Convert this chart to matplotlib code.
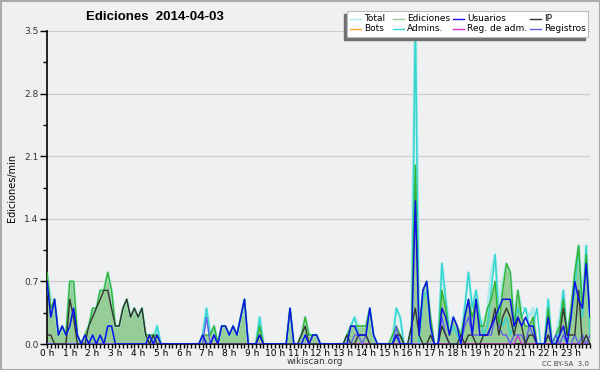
import matplotlib
matplotlib.use("Agg")
import matplotlib.pyplot as plt
from matplotlib.patches import Rectangle
import numpy as np

# 10-minute slots, values in edits per minute
slots = np.arange(144)
hour_labels = [f"{h} h" for h in range(24)]

ediciones = [
    0.8, 0.4, 0.5, 0.1, 0.2, 0.1, 0.7, 0.7, 0.1, 0.0,
    0.1, 0.2, 0.4, 0.4, 0.6, 0.6, 0.8, 0.6, 0.2, 0.2,
    0.4, 0.5, 0.3, 0.4, 0.3, 0.4, 0.1, 0.1, 0.1, 0.1,
    0.0, 0.0, 0.0, 0.0, 0.0, 0.0, 0.0, 0.0, 0.0, 0.0,
    0.0, 0.1, 0.1, 0.1, 0.2, 0.0, 0.2, 0.2, 0.1, 0.2,
    0.1, 0.3, 0.5, 0.0, 0.0, 0.0, 0.2, 0.0, 0.0, 0.0,
    0.0, 0.0, 0.0, 0.0, 0.4, 0.0, 0.0, 0.1, 0.3, 0.1,
    0.1, 0.1, 0.0, 0.0, 0.0, 0.0, 0.0, 0.0, 0.0, 0.1,
    0.2, 0.2, 0.2, 0.2, 0.2, 0.4, 0.1, 0.0, 0.0, 0.0,
    0.0, 0.1, 0.2, 0.1, 0.0, 0.0, 0.2, 2.0, 0.1, 0.6,
    0.7, 0.3, 0.0, 0.0, 0.6, 0.4, 0.1, 0.3, 0.2, 0.1,
    0.3, 0.5, 0.3, 0.5, 0.2, 0.2, 0.4, 0.5, 0.7, 0.2,
    0.6, 0.9, 0.8, 0.2, 0.6, 0.3, 0.2, 0.2, 0.3, 0.0,
    0.0, 0.0, 0.4, 0.0, 0.1, 0.2, 0.5, 0.1, 0.4, 0.8,
    1.1, 0.4, 1.0, 0.3,
]
usuarios = [
    0.7, 0.3, 0.5, 0.1, 0.2, 0.1, 0.2, 0.4, 0.1, 0.0,
    0.1, 0.0, 0.1, 0.0, 0.1, 0.0, 0.2, 0.2, 0.0, 0.0,
    0.0, 0.0, 0.0, 0.0, 0.0, 0.0, 0.0, 0.1, 0.0, 0.1,
    0.0, 0.0, 0.0, 0.0, 0.0, 0.0, 0.0, 0.0, 0.0, 0.0,
    0.0, 0.1, 0.0, 0.0, 0.1, 0.0, 0.2, 0.2, 0.1, 0.2,
    0.1, 0.3, 0.5, 0.0, 0.0, 0.0, 0.1, 0.0, 0.0, 0.0,
    0.0, 0.0, 0.0, 0.0, 0.4, 0.0, 0.0, 0.0, 0.1, 0.0,
    0.1, 0.1, 0.0, 0.0, 0.0, 0.0, 0.0, 0.0, 0.0, 0.0,
    0.2, 0.2, 0.1, 0.1, 0.1, 0.4, 0.1, 0.0, 0.0, 0.0,
    0.0, 0.0, 0.1, 0.0, 0.0, 0.0, 0.0, 1.6, 0.1, 0.6,
    0.7, 0.2, 0.0, 0.0, 0.4, 0.3, 0.1, 0.3, 0.2, 0.0,
    0.3, 0.5, 0.1, 0.5, 0.1, 0.1, 0.1, 0.2, 0.3, 0.4,
    0.5, 0.5, 0.5, 0.2, 0.3, 0.2, 0.3, 0.2, 0.2, 0.0,
    0.0, 0.0, 0.3, 0.0, 0.0, 0.1, 0.2, 0.0, 0.3, 0.7,
    0.5, 0.4, 0.9, 0.3,
]
ip = [
    0.1, 0.1, 0.0, 0.0, 0.0, 0.0, 0.5, 0.3, 0.0, 0.0,
    0.0, 0.2, 0.3, 0.4, 0.5, 0.6, 0.6, 0.4, 0.2, 0.2,
    0.4, 0.5, 0.3, 0.4, 0.3, 0.4, 0.1, 0.0, 0.1, 0.0,
    0.0, 0.0, 0.0, 0.0, 0.0, 0.0, 0.0, 0.0, 0.0, 0.0,
    0.0, 0.0, 0.0, 0.0, 0.0, 0.0, 0.0, 0.0, 0.0, 0.0,
    0.0, 0.0, 0.0, 0.0, 0.0, 0.0, 0.1, 0.0, 0.0, 0.0,
    0.0, 0.0, 0.0, 0.0, 0.0, 0.0, 0.0, 0.1, 0.2, 0.0,
    0.0, 0.0, 0.0, 0.0, 0.0, 0.0, 0.0, 0.0, 0.0, 0.1,
    0.0, 0.0, 0.1, 0.1, 0.1, 0.0, 0.0, 0.0, 0.0, 0.0,
    0.0, 0.0, 0.1, 0.1, 0.0, 0.0, 0.2, 0.4, 0.1, 0.0,
    0.0, 0.1, 0.0, 0.0, 0.2, 0.1, 0.0, 0.0, 0.0, 0.1,
    0.0, 0.1, 0.1, 0.0, 0.0, 0.1, 0.1, 0.2, 0.4, 0.1,
    0.3, 0.4, 0.3, 0.1, 0.3, 0.2, 0.0, 0.1, 0.1, 0.0,
    0.0, 0.0, 0.1, 0.0, 0.0, 0.1, 0.4, 0.1, 0.1, 0.1,
    0.6, 0.0, 0.1, 0.0,
]
admins = [
    0.7, 0.3, 0.5, 0.1, 0.2, 0.1, 0.2, 0.4, 0.1, 0.0,
    0.1, 0.0, 0.1, 0.0, 0.1, 0.0, 0.2, 0.2, 0.0, 0.0,
    0.0, 0.0, 0.0, 0.0, 0.0, 0.0, 0.0, 0.1, 0.0, 0.2,
    0.0, 0.0, 0.0, 0.0, 0.0, 0.0, 0.0, 0.0, 0.0, 0.0,
    0.0, 0.1, 0.4, 0.1, 0.2, 0.0, 0.2, 0.2, 0.1, 0.2,
    0.1, 0.3, 0.5, 0.0, 0.0, 0.0, 0.3, 0.0, 0.0, 0.0,
    0.0, 0.0, 0.0, 0.0, 0.4, 0.0, 0.0, 0.0, 0.1, 0.1,
    0.1, 0.1, 0.0, 0.0, 0.0, 0.0, 0.0, 0.0, 0.0, 0.0,
    0.2, 0.3, 0.1, 0.1, 0.1, 0.4, 0.1, 0.0, 0.0, 0.0,
    0.0, 0.0, 0.4, 0.3, 0.0, 0.0, 0.0, 3.6, 0.0, 0.5,
    0.6, 0.2, 0.0, 0.0, 0.9, 0.5, 0.1, 0.2, 0.1, 0.0,
    0.4, 0.8, 0.4, 0.6, 0.3, 0.1, 0.2, 0.6, 1.0, 0.3,
    0.2, 0.3, 0.1, 0.2, 0.4, 0.3, 0.4, 0.2, 0.2, 0.4,
    0.0, 0.0, 0.5, 0.0, 0.0, 0.2, 0.6, 0.1, 0.3, 0.6,
    1.1, 0.3, 1.1, 0.1,
]
total = [
    0.8, 0.5, 0.5, 0.1, 0.2, 0.1, 0.7, 0.7, 0.1, 0.0,
    0.1, 0.2, 0.4, 0.4, 0.6, 0.6, 0.8, 0.6, 0.2, 0.2,
    0.4, 0.5, 0.3, 0.4, 0.3, 0.4, 0.1, 0.1, 0.1, 0.2,
    0.0, 0.0, 0.0, 0.0, 0.0, 0.0, 0.0, 0.0, 0.0, 0.0,
    0.0, 0.1, 0.4, 0.1, 0.2, 0.0, 0.2, 0.2, 0.1, 0.2,
    0.1, 0.3, 0.5, 0.0, 0.0, 0.0, 0.3, 0.0, 0.0, 0.0,
    0.0, 0.0, 0.0, 0.0, 0.4, 0.0, 0.0, 0.1, 0.3, 0.1,
    0.1, 0.1, 0.0, 0.0, 0.0, 0.0, 0.0, 0.0, 0.0, 0.1,
    0.2, 0.3, 0.2, 0.2, 0.2, 0.4, 0.1, 0.0, 0.0, 0.0,
    0.0, 0.1, 0.4, 0.3, 0.0, 0.0, 0.2, 3.9, 0.1, 0.6,
    0.7, 0.3, 0.0, 0.0, 0.9, 0.5, 0.2, 0.3, 0.2, 0.1,
    0.4, 0.8, 0.4, 0.6, 0.3, 0.2, 0.4, 0.8, 1.0, 0.4,
    0.7, 0.9, 0.8, 0.3, 0.6, 0.4, 0.4, 0.3, 0.4, 0.0,
    0.0, 0.0, 0.5, 0.0, 0.1, 0.3, 0.6, 0.1, 0.4, 0.8,
    1.1, 0.5, 1.1, 0.3,
]
registros = [
    0.0, 0.0, 0.0, 0.0, 0.0, 0.0, 0.0, 0.0, 0.0, 0.0,
    0.0, 0.0, 0.0, 0.0, 0.0, 0.0, 0.0, 0.0, 0.0, 0.0,
    0.0, 0.0, 0.0, 0.0, 0.0, 0.0, 0.0, 0.0, 0.0, 0.0,
    0.0, 0.0, 0.0, 0.0, 0.0, 0.0, 0.0, 0.0, 0.0, 0.0,
    0.0, 0.0, 0.3, 0.0, 0.1, 0.0, 0.0, 0.0, 0.0, 0.0,
    0.0, 0.0, 0.0, 0.0, 0.0, 0.0, 0.0, 0.0, 0.0, 0.0,
    0.0, 0.0, 0.0, 0.0, 0.0, 0.0, 0.0, 0.0, 0.0, 0.0,
    0.0, 0.0, 0.0, 0.0, 0.0, 0.0, 0.0, 0.0, 0.0, 0.0,
    0.0, 0.1, 0.1, 0.0, 0.1, 0.0, 0.0, 0.0, 0.0, 0.0,
    0.0, 0.0, 0.2, 0.0, 0.0, 0.0, 0.0, 0.0, 0.0, 0.0,
    0.0, 0.0, 0.0, 0.0, 0.3, 0.1, 0.0, 0.0, 0.0, 0.0,
    0.2, 0.3, 0.1, 0.1, 0.1, 0.1, 0.1, 0.1, 0.3, 0.2,
    0.1, 0.1, 0.0, 0.1, 0.1, 0.1, 0.0, 0.2, 0.1, 0.0,
    0.0, 0.0, 0.1, 0.0, 0.1, 0.0, 0.1, 0.0, 0.0, 0.1,
    0.0, 0.1, 0.0, 0.1,
]
reg_adm = [0.0] * 124 + [0.1] + [0.0] * 19
bots = [0.0] * 144

c_total = "#aeeaea"
c_edic = "#33b533"
c_fill = "#96cc96"
c_usu = "#1010e8"
c_ip = "#333333"
c_bots = "#ffa033"
c_adm = "#33d6d0"
c_regadm = "#cc33cc"
c_reg = "#6060f0"

fig = plt.figure(figsize=(6.0, 3.7), dpi=100, facecolor="#f0f0f0")
ax = fig.add_axes([47 / 600, 1 - 344 / 370, 543 / 600, 313 / 370])
ax.set_facecolor("#eff0f2")

ax.fill_between(slots, ediciones, 0, color=c_fill, lw=0, zorder=1)
ax.plot(slots, total, color=c_total, lw=2.0, zorder=2)
ax.plot(slots, admins, color=c_adm, lw=1.1, zorder=3)
ax.plot(slots, ediciones, color=c_edic, lw=1.1, zorder=3)
ax.plot(slots, bots, color=c_bots, lw=1.0, zorder=2, alpha=0)
ax.plot(slots, reg_adm, color=c_regadm, lw=1.0, zorder=4)
ax.plot(slots, registros, color=c_reg, lw=1.0, zorder=4)
ax.plot(slots, ip, color=c_ip, lw=1.0, zorder=5)
ax.plot(slots, usuarios, color=c_usu, lw=1.1, zorder=6)

ax.set_xlim(0, 143)
ax.set_ylim(0, 3.5)
ax.set_yticks(np.arange(0, 3.51, 0.7))
ax.set_yticklabels([f"{v:.1f}" for v in np.arange(0, 3.51, 0.7)])
ax.set_yticks(np.arange(0.35, 3.5, 0.7), minor=True)
ax.set_xticks(slots[::6])
ax.set_xticklabels(hour_labels)
ax.set_xticks(slots, minor=True)
ax.grid(axis="y", color="#cccccc", lw=0.9, zorder=0)
ax.set_axisbelow(True)

for side in ("top", "right"):
    ax.spines[side].set_visible(False)
ax.spines["left"].set_linewidth(1.2)
ax.spines["bottom"].set_linewidth(1.2)
ax.tick_params(axis="x", which="major", length=3, width=1, labelsize=6.5,
               pad=0.5)
ax.tick_params(axis="y", which="major", length=5, width=1, labelsize=6.5,
               pad=1, labelcolor="#333333")
ax.tick_params(axis="both", which="minor", length=3, width=1)

ax.set_ylabel("Ediciones/min", fontsize=7, labelpad=5)

fig.text(155 / 600, 1 - 17 / 370, "Ediciones  2014-04-03", ha="center",
         va="center", fontsize=9.5, fontweight="bold", family="Liberation Sans")
fig.text(315 / 600, 1 - 361 / 370, "wikiscan.org", ha="center", va="center",
         fontsize=6.5, color="#333333")
fig.text(589 / 600, 1 - 363.5 / 370, "CC BY-SA  3.0", ha="right", va="center",
         fontsize=5, color="#444444")

# legend with drop shadow (shadow sits lower-left)
lx0, ly0, lx1, ly1 = 347, 11, 588, 37
fig.patches.append(Rectangle(((lx0 - 3) / 600, 1 - (ly1 + 3) / 370),
                             (lx1 - lx0) / 600, (ly1 - ly0) / 370,
                             transform=fig.transFigure, color="#707070",
                             zorder=8))
fig.patches.append(Rectangle((lx0 / 600, 1 - ly1 / 370),
                             (lx1 - lx0) / 600, (ly1 - ly0) / 370,
                             transform=fig.transFigure, facecolor="white",
                             edgecolor="#bbbbbb", lw=0.8, zorder=9))
entries = [
    ("Total", c_total), ("Ediciones", c_fill), ("Usuarios", c_usu), ("IP", c_ip),
    ("Bots", c_bots), ("Admins.", c_adm), ("Reg. de adm.", c_regadm),
    ("Registros", c_reg),
]
col_x = [350, 393, 453, 530]
row_y = [18.5, 28.5]
for k, (name, col) in enumerate(entries):
    x = col_x[k % 4]
    y = 1 - row_y[k // 4] / 370
    fig.add_artist(plt.Line2D([x / 600, (x + 11) / 600], [y, y], color=col,
                              lw=1, transform=fig.transFigure, zorder=10))
    fig.text((x + 14) / 600, y, name, fontsize=6.5, va="center", ha="left",
             zorder=10)

fig.patches.append(Rectangle((0.5 / 600, 0.5 / 370), 599 / 600, 369 / 370,
                             transform=fig.transFigure, fill=False,
                             edgecolor="#aaaaaa", lw=1.5, zorder=20))

fig.savefig("out.png", dpi=100, facecolor=fig.get_facecolor())
